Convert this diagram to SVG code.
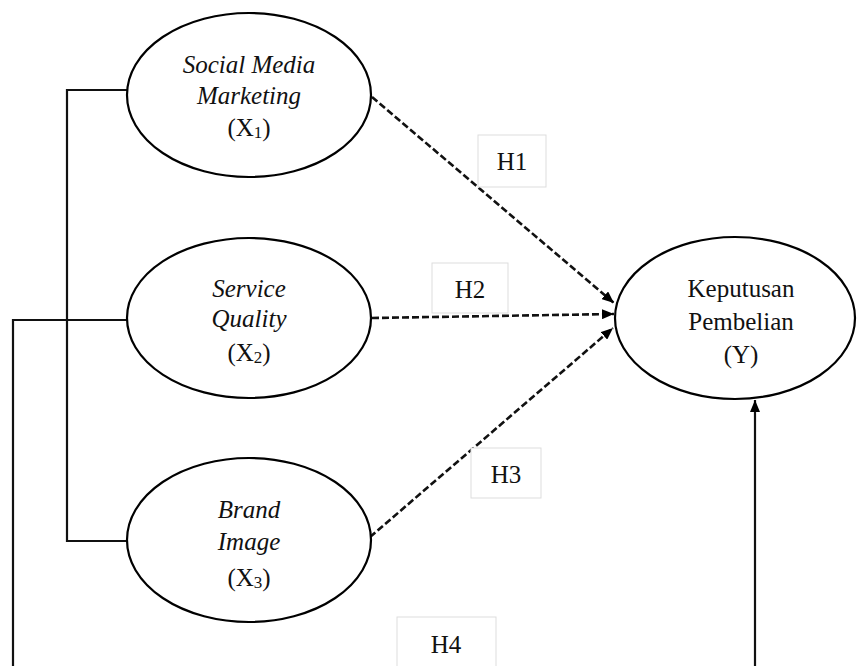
<svg xmlns="http://www.w3.org/2000/svg" width="857" height="666" viewBox="0 0 857 666">
<defs>
<marker id="ah" viewBox="0 0 12 10" refX="12" refY="5" markerWidth="12" markerHeight="10" markerUnits="userSpaceOnUse" orient="auto">
<path d="M0,0 L12,5 L0,10 z" fill="#000"/>
</marker>
</defs>
<style>
.node ellipse{fill:#fff;stroke:#000;stroke-width:2.2}
.t{font-family:"Liberation Serif","Times New Roman",serif;font-size:25px;fill:#111;text-anchor:middle}
.i{font-style:italic}
.sub{font-size:17px}
.lbl rect{fill:#fff;stroke:#ddd;stroke-width:1}
.solid{fill:none;stroke:#111;stroke-width:2.2}
.dash{fill:none;stroke:#111;stroke-width:2.6;stroke-dasharray:7 3}
</style>
<rect width="857" height="666" fill="#fff"/>
<g id="connectors">
<polyline class="solid" points="127,90 67,90 67,541 127,541"/>
<polyline class="solid" points="13,666 13,320 127,320"/>
<line class="solid" x1="755" y1="666" x2="755" y2="400" marker-end="url(#ah)"/>
<line class="dash" x1="372" y1="97" x2="614" y2="303" marker-end="url(#ah)"/>
<line class="dash" x1="372" y1="318" x2="614" y2="314" marker-end="url(#ah)"/>
<line class="dash" x1="370" y1="537" x2="613" y2="328" marker-end="url(#ah)"/>
</g>
<g id="X1" class="node">
<ellipse cx="249" cy="95" rx="122" ry="82"/>
<text class="t i" x="249" y="73">Social Media</text>
<text class="t i" x="249" y="104">Marketing</text>
<text class="t" x="249" y="136">(X<tspan class="sub" dy="2">1</tspan><tspan dy="-2">)</tspan></text>
</g>
<g id="X2" class="node">
<ellipse cx="249" cy="318" rx="122" ry="80"/>
<text class="t i" x="249" y="297">Service</text>
<text class="t i" x="249" y="327">Quality</text>
<text class="t" x="249" y="361">(X<tspan class="sub" dy="2">2</tspan><tspan dy="-2">)</tspan></text>
</g>
<g id="X3" class="node">
<ellipse cx="249" cy="540" rx="122" ry="82"/>
<text class="t i" x="249" y="518">Brand</text>
<text class="t i" x="249" y="550">Image</text>
<text class="t" x="249" y="586">(X<tspan class="sub" dy="2">3</tspan><tspan dy="-2">)</tspan></text>
</g>
<g id="Y" class="node">
<ellipse cx="735" cy="318" rx="120" ry="81"/>
<text class="t" x="741" y="297">Keputusan</text>
<text class="t" x="741" y="330">Pembelian</text>
<text class="t" x="741" y="363">(Y)</text>
</g>
<g id="H1" class="lbl">
<rect x="478" y="135" width="68" height="52"/>
<text class="t" x="512" y="170">H1</text>
</g>
<g id="H2" class="lbl">
<rect x="432" y="263" width="76" height="50"/>
<text class="t" x="470" y="298">H2</text>
</g>
<g id="H3" class="lbl">
<rect x="471" y="448" width="70" height="50"/>
<text class="t" x="506" y="483">H3</text>
</g>
<g id="H4" class="lbl">
<rect x="397" y="617" width="99" height="60"/>
<text class="t" x="446" y="653">H4</text>
</g>
</svg>
